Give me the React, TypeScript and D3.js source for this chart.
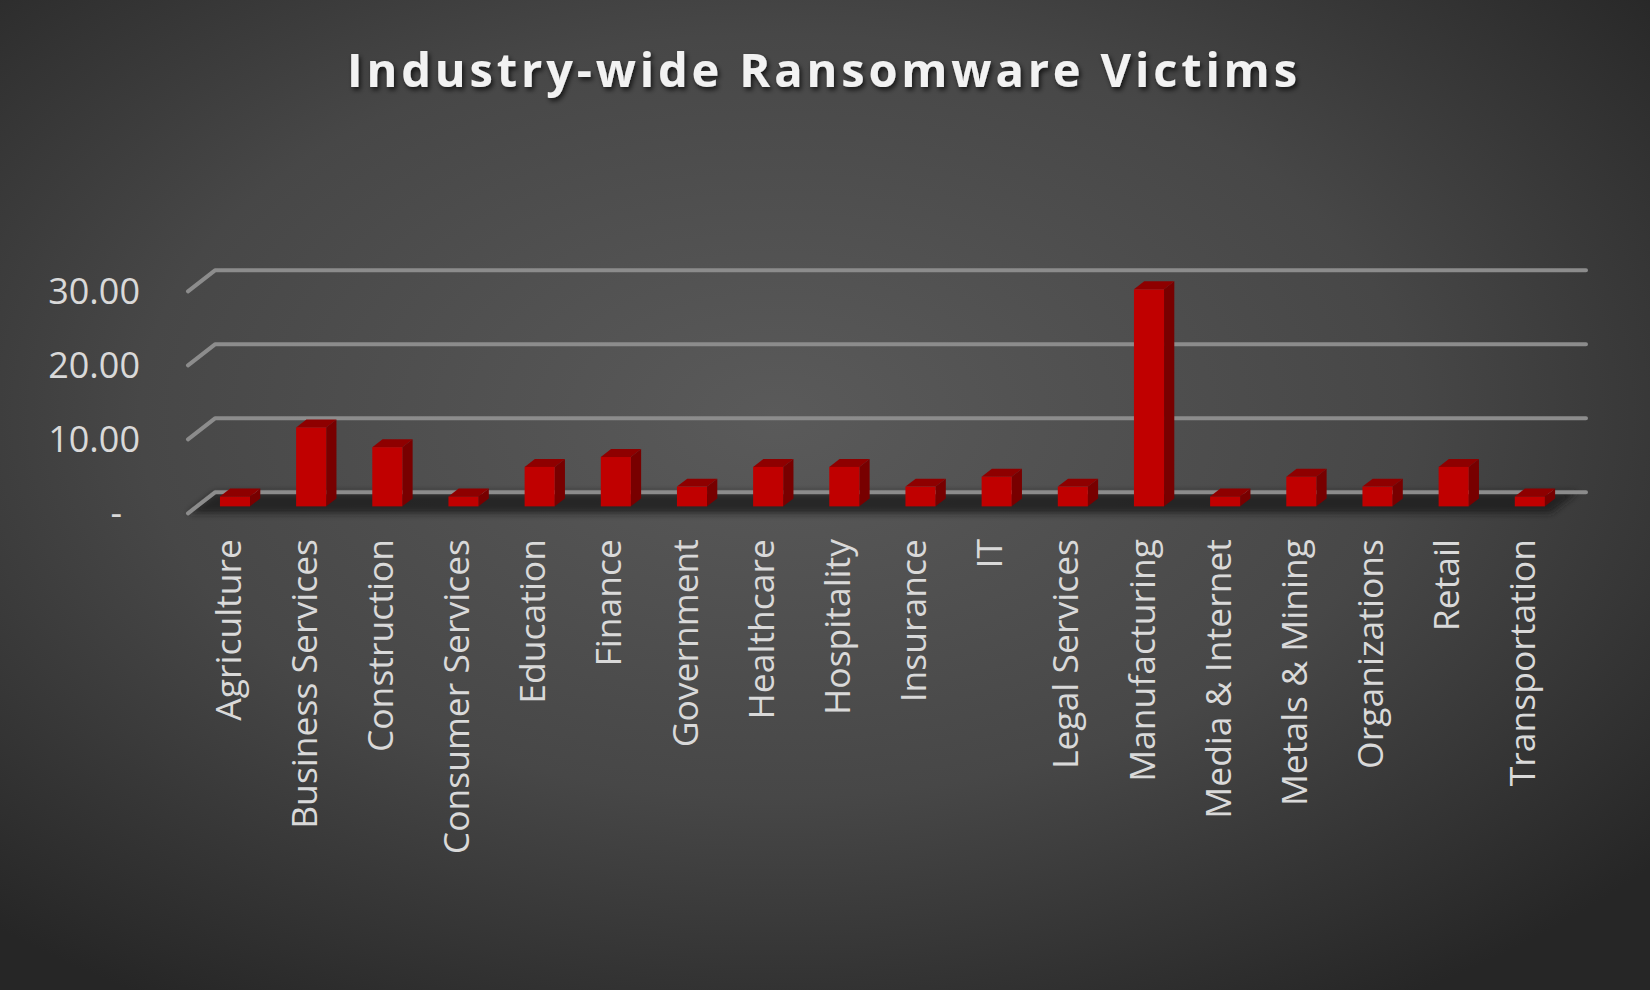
import { useEffect, useRef } from 'react'
import * as d3 from 'd3'

const categories = [
  'Agriculture',
  'Business Services',
  'Construction',
  'Consumer Services',
  'Education',
  'Finance',
  'Government',
  'Healthcare',
  'Hospitality',
  'Insurance',
  'IT',
  'Legal Services',
  'Manufacturing',
  'Media & Internet',
  'Metals & Mining',
  'Organizations',
  'Retail',
  'Transportation',
]

// share of victims (%)
const victims = [
  1.33, 10.67, 8.0, 1.33, 5.33, 6.67, 2.67, 5.33, 5.33, 2.67, 4.0, 2.67, 29.33,
  1.33, 4.0, 2.67, 5.33, 1.33,
]

const yTicks = [0, 10, 20, 30]

const title = 'Industry-wide Ransomware Victims'

export default function App() {
  const svgRef = useRef<SVGSVGElement>(null)
  const width = 1650
  const height = 990

  useEffect(() => {
    if (!svgRef.current) return
    document.body.style.margin = '0'

    const svg = d3.select(svgRef.current)
    svg.selectAll('*').remove()

    // back wall of the 3d plot
    const wall = { left: 215, right: 1586 }
    // depth vector from back wall to front edge
    const depth = { dx: -27, dy: 21 }
    // bars sit between these fractions of the depth
    const barFront = 0.67
    const barBack = 0.29

    const xScale = d3
      .scalePoint<string>()
      .domain(categories)
      .range([wall.left, wall.right])
      .padding(0.5)

    const barWidth = xScale.step() * 0.395

    const yScale = d3.scaleLinear().domain([0, 30]).range([492.3, 270.3])

    const defs = svg.append('defs')

    const bg = defs
      .append('radialGradient')
      .attr('id', 'bg-gradient')
      .attr('cx', '47%')
      .attr('cy', '42%')
      .attr('r', '70%')
    bg.append('stop').attr('offset', '0%').attr('stop-color', '#5a5a5a')
    bg.append('stop').attr('offset', '55%').attr('stop-color', '#474747')
    bg.append('stop').attr('offset', '100%').attr('stop-color', '#262626')

    const shadow = defs.append('filter').attr('id', 'title-shadow')
      .attr('x', '-10%').attr('y', '-30%').attr('width', '120%').attr('height', '160%')
    shadow
      .append('feDropShadow')
      .attr('dx', 2)
      .attr('dy', 3)
      .attr('stdDeviation', 2.5)
      .attr('flood-color', '#000')
      .attr('flood-opacity', 0.7)

    const blur = defs.append('filter').attr('id', 'floor-blur')
      .attr('x', '-5%').attr('y', '-50%').attr('width', '110%').attr('height', '200%')
    blur.append('feGaussianBlur').attr('stdDeviation', 3)

    svg
      .append('rect')
      .attr('width', width)
      .attr('height', height)
      .attr('fill', 'url(#bg-gradient)')

    // Title
    svg
      .append('text')
      .attr('x', 822)
      .attr('y', 87)
      .attr('text-anchor', 'middle')
      .attr('font-family', '"Open Sans", sans-serif')
      .attr('font-weight', 700)
      .attr('font-size', 47)
      .attr('fill', '#f2f2f2')
      .attr('textLength', 950)
      .attr('lengthAdjust', 'spacing')
      .attr('filter', 'url(#title-shadow)')
      .text(title)

    const y0 = yScale(0)

    // Floor shadow
    svg
      .append('path')
      .attr(
        'd',
        `M${wall.left},${y0} L${wall.right - 8},${y0} L${wall.right - 8 + depth.dx},${y0 + depth.dy} L${wall.left + depth.dx},${y0 + depth.dy} Z`
      )
      .attr('fill', '#1f1f1f')
      .attr('opacity', 0.8)
      .attr('filter', 'url(#floor-blur)')

    // Gridlines on the back wall + left diagonal
    const grid = svg.append('g')
    grid
      .selectAll('path')
      .data(yTicks)
      .enter()
      .append('path')
      .attr(
        'd',
        (d) =>
          `M${wall.left + depth.dx},${yScale(d) + depth.dy} L${wall.left},${yScale(d)} L${wall.right},${yScale(d)}`
      )
      .attr('fill', 'none')
      .attr('stroke', '#8c8c8c')
      .attr('stroke-width', 4)
      .attr('stroke-linecap', 'round')
      .attr('stroke-linejoin', 'round')

    // Y labels (front edge)
    svg
      .append('g')
      .selectAll('text')
      .data(yTicks)
      .enter()
      .append('text')
      .attr('x', (d) => (d === 0 ? 122 : 140))
      .attr('y', (d) => yScale(d) + depth.dy)
      .attr('dy', '0.35em')
      .attr('text-anchor', 'end')
      .attr('font-family', '"Open Sans", sans-serif')
      .attr('font-size', 36)
      .attr('fill', '#d9d9d9')
      .text((d) => (d === 0 ? '-' : d3.format('.2f')(d)))

    // Bars
    const fx = depth.dx * barFront
    const fy = depth.dy * barFront
    const bx = depth.dx * barBack
    const by = depth.dy * barBack

    const bars = svg
      .append('g')
      .selectAll('g')
      .data(categories.map((c, i) => ({ label: c, value: victims[i] })))
      .enter()
      .append('g')

    const left = (d: { label: string }) => (xScale(d.label) || 0) - barWidth / 2

    // right side face
    bars
      .append('path')
      .attr('d', (d) => {
        const xr = left(d) + barWidth
        const yt = yScale(d.value)
        return `M${xr + fx},${yt + fy} L${xr + bx},${yt + by} L${xr + bx},${y0 + by} L${xr + fx},${y0 + fy} Z`
      })
      .attr('fill', '#780000')

    // top face
    bars
      .append('path')
      .attr('d', (d) => {
        const xl = left(d)
        const xr = xl + barWidth
        const yt = yScale(d.value)
        return `M${xl + fx},${yt + fy} L${xr + fx},${yt + fy} L${xr + bx},${yt + by} L${xl + bx},${yt + by} Z`
      })
      .attr('fill', '#8e0000')

    // front face
    bars
      .append('rect')
      .attr('x', (d) => left(d) + fx)
      .attr('y', (d) => yScale(d.value) + fy)
      .attr('width', barWidth)
      .attr('height', (d) => y0 - yScale(d.value))
      .attr('fill', '#c00000')

    // X labels, rotated
    svg
      .append('g')
      .selectAll('text')
      .data(categories)
      .enter()
      .append('text')
      .attr('transform', (d) => `translate(${(xScale(d) || 0) + depth.dx + 2},539) rotate(-90)`)
      .attr('dy', '0.35em')
      .attr('text-anchor', 'end')
      .attr('font-family', '"Open Sans", sans-serif')
      .attr('font-size', 35.5)
      .attr('fill', '#d9d9d9')
      .text((d) => d)
  }, [])

  return (
    <svg
      ref={svgRef}
      width={width}
      height={height}
      style={{ position: 'absolute', left: 0, top: 0, display: 'block' }}
    />
  )
}
